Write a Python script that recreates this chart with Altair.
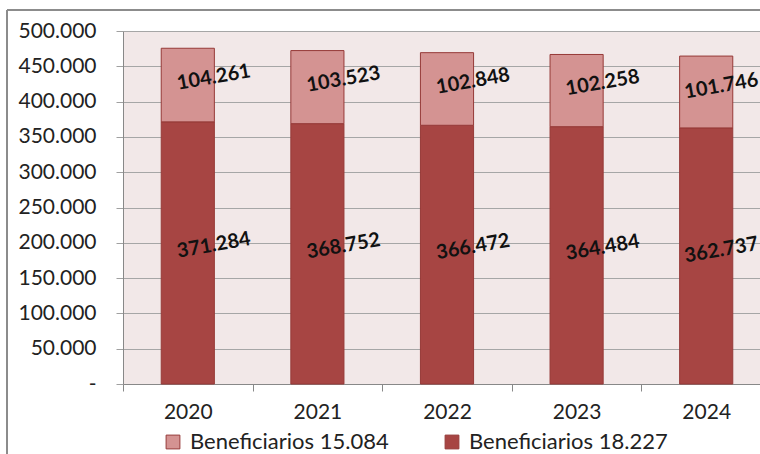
import altair as alt
import pandas as pd

# Beneficiaries per year, two groups stacked
years = ["2020", "2021", "2022", "2023", "2024"]
benef_18227 = [371284, 368752, 366472, 364484, 362737]
benef_15084 = [104261, 103523, 102848, 102258, 101746]
series = ["Beneficiarios 15.084", "Beneficiarios 18.227"]
colors = ["#D49392", "#A74543"]
y_ticks = [0, 50000, 100000, 150000, 200000, 250000, 300000, 350000, 400000, 450000, 500000]

rows = []
for y, low, top in zip(years, benef_18227, benef_15084):
    rows.append({"year": y, "serie": series[1], "value": low, "base": 0, "order": 0})
    rows.append({"year": y, "serie": series[0], "value": top, "base": low, "order": 1})
df = pd.DataFrame(rows)

FONT = "Lato"
W, H = 637, 353

x_scale = alt.Scale(range=[0, 648], paddingInner=0, paddingOuter=0)
y_scale = alt.Scale(domain=[0, 500000], nice=False)

x_axis = alt.Axis(
    labelAngle=0, labelFont=FONT, labelFontSize=21, labelColor="#222222",
    labelPadding=10, tickBand="extent", tickSize=7, tickColor="#888888",
    domainColor="#888888", grid=False,
)
y_axis = alt.Axis(
    values=y_ticks,
    labelExpr="datum.value == 0 ? '-' : replace(format(datum.value, ',d'), regexp(',', 'g'), '.')",
    labelFont=FONT, labelFontSize=21, labelColor="#222222", labelPadding=20,
    labelOverlap=False,
    tickSize=7, tickColor="#A0A0A0", domainColor="#888888",
    gridColor="#A6A6A6", gridWidth=1.2,
)

base = alt.Chart(df)

bars = base.mark_bar(
    stroke="#963a38", strokeWidth=1, width=alt.RelativeBandSize(0.41)
).encode(
    x=alt.X("year:N", title=None, scale=x_scale, axis=x_axis),
    y=alt.Y("value:Q", stack="zero", title=None, scale=y_scale, axis=y_axis),
    color=alt.Color(
        "serie:N",
        scale=alt.Scale(domain=series, range=colors),
        legend=alt.Legend(
            title=None, orient="none", direction="horizontal", legendX=39, legendY=400,
            symbolType="square", symbolSize=190, symbolStrokeColor="#963a38",
            symbolStrokeWidth=1, labelFont=FONT, labelFontSize=22, labelColor="#222222",
            labelLimit=0, labelOffset=6, columnPadding=52, symbolOffset=0,
        ),
    ),
    order=alt.Order("order:Q"),
)

labeled = base.transform_calculate(
    mid="datum.base + datum.value / 2",
    txt="replace(format(datum.value, ',d'), regexp(',', 'g'), '.')",
)

def value_labels(filter_expr, dx):
    return labeled.transform_filter(filter_expr).mark_text(
        angle=350, font=FONT, fontSize=20, fontWeight="bold", color="#111111", dx=dx, dy=-3
    ).encode(
        x=alt.X("year:N", title=None, scale=x_scale, axis=x_axis),
        y=alt.Y("mid:Q", title=None, scale=y_scale, axis=y_axis),
        text="txt:N",
    )

text_main = value_labels("datum.year != '2024'", 27)
text_last = value_labels("datum.year == '2024'", 16)

# outer frame of the chart area
frame_left = alt.Chart(df).mark_rule(color="#8C8C8C", strokeWidth=2).encode(
    x=alt.value(-116), y=alt.value(-21), y2=alt.value(H + 80)
)
frame_top = alt.Chart(df).mark_rule(color="#8C8C8C", strokeWidth=2).encode(
    x=alt.value(-116), x2=alt.value(W + 20), y=alt.value(-21)
)

chart = alt.layer(bars, text_main, text_last, frame_left, frame_top).properties(
    width=W,
    height=H,
    padding={"left": 123, "top": 31, "right": 0, "bottom": 70},
    autosize=alt.AutoSizeParams(type="none"),
    background="white",
).configure_view(fill="#F2E8E8", stroke=None)

chart.save("out.html", embed_options={"renderer": "svg", "actions": False})
